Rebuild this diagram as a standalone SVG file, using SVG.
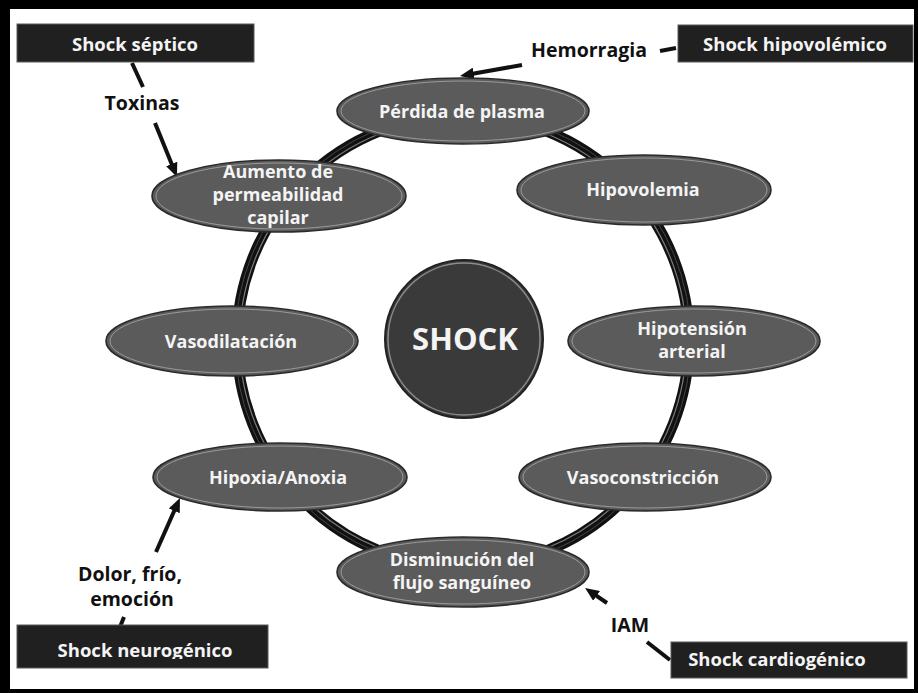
<svg xmlns="http://www.w3.org/2000/svg" width="918" height="693" viewBox="0 0 918 693">
<defs>
<style>
.node{fill:#5b5b5b;stroke:#2b2b2b;stroke-width:1.6}
.rim{fill:none;stroke:#9a9a9a;stroke-width:1}
.nt{font-family:"Open Sans","Liberation Sans",sans-serif;font-weight:bold;font-size:18px;fill:#f4f4f4;text-anchor:middle}
.lb{font-family:"Open Sans","Liberation Sans",sans-serif;font-weight:bold;font-size:19.5px;fill:#111;text-anchor:middle}
.bx{fill:#202020;stroke:#5a5a5a;stroke-width:1}
.bt{font-family:"Open Sans","Liberation Sans",sans-serif;font-weight:bold;font-size:18.5px;fill:#f4f4f4;text-anchor:middle}
.ln{stroke:#111;stroke-width:4;fill:none}
.ar{stroke:#111;stroke-width:4;fill:none;marker-end:url(#ah)}
</style>
<marker id="ah" markerUnits="userSpaceOnUse" markerWidth="14" markerHeight="12" viewBox="0 0 14 12" refX="4" refY="6" orient="auto">
<path d="M0,0 L14,6 L0,12 z" fill="#111"/>
</marker>
<clipPath id="cneuro"><rect x="17" y="625" width="251" height="34"/></clipPath>
</defs>

<rect x="0" y="0" width="918" height="693" fill="#000"/>
<rect x="10" y="9" width="904" height="680" fill="#fff"/>

<g id="ring">
<circle cx="463" cy="341" r="226" fill="none" stroke="#111" stroke-width="11"/>
<circle cx="463" cy="341" r="223.5" fill="none" stroke="#7a7a7a" stroke-width="1.2"/>
<circle cx="463" cy="341" r="228" fill="none" stroke="#444" stroke-width="1"/>
</g>

<g id="connectors">
<line class="ln" x1="132" y1="63" x2="143" y2="87"/>
<line class="ar" x1="155" y1="123" x2="173.2" y2="167.7"/>
<line class="ln" x1="660" y1="51" x2="676" y2="48"/>
<line class="ar" x1="522" y1="65" x2="469.8" y2="74.3"/>
<line class="ln" x1="120" y1="627" x2="124" y2="617"/>
<line class="ar" x1="156" y1="552" x2="175.9" y2="507.1"/>
<line class="ln" x1="647" y1="642" x2="670" y2="660"/>
<line class="ar" x1="607" y1="603" x2="593.3" y2="593.6"/>
</g>

<g id="shock">
<circle cx="464" cy="339" r="79" fill="#3a3a3a" stroke="#222" stroke-width="2"/>
<circle cx="464" cy="339" r="76" fill="none" stroke="#8c8c8c" stroke-width="1.5"/>
<text x="465" y="350" font-family="'Open Sans','Liberation Sans',sans-serif" font-weight="bold" font-size="31" fill="#f4f4f4" text-anchor="middle">SHOCK</text>
</g>

<g id="n-perdida">
<ellipse class="node" cx="463" cy="111" rx="126" ry="33"/>
<ellipse class="rim" cx="463" cy="111" rx="122" ry="30"/>
<text class="nt" x="462" y="118">Pérdida de plasma</text>
</g>
<g id="n-hipovolemia">
<ellipse class="node" cx="644" cy="190" rx="127" ry="35"/>
<ellipse class="rim" cx="644" cy="190" rx="123" ry="32"/>
<text class="nt" x="643" y="196">Hipovolemia</text>
</g>
<g id="n-hipotension">
<ellipse class="node" cx="694" cy="341" rx="126" ry="35"/>
<ellipse class="rim" cx="694" cy="341" rx="122" ry="32"/>
<text class="nt" x="692" y="335">Hipotensión</text>
<text class="nt" x="692" y="358">arterial</text>
</g>
<g id="n-vasoconstriccion">
<ellipse class="node" cx="645" cy="477" rx="126" ry="34"/>
<ellipse class="rim" cx="645" cy="477" rx="122" ry="31"/>
<text class="nt" x="643" y="484">Vasoconstricción</text>
</g>
<g id="n-disminucion">
<ellipse class="node" cx="463" cy="572" rx="126" ry="35"/>
<ellipse class="rim" cx="463" cy="572" rx="122" ry="32"/>
<text class="nt" x="462" y="566">Disminución del</text>
<text class="nt" x="462" y="589">flujo sanguíneo</text>
</g>
<g id="n-hipoxia">
<ellipse class="node" cx="280" cy="477" rx="127" ry="34"/>
<ellipse class="rim" cx="280" cy="477" rx="123" ry="31"/>
<text class="nt" x="278" y="484">Hipoxia/Anoxia</text>
</g>
<g id="n-vasodilatacion">
<ellipse class="node" cx="232" cy="341" rx="126" ry="35"/>
<ellipse class="rim" cx="232" cy="341" rx="122" ry="32"/>
<text class="nt" x="231" y="348">Vasodilatación</text>
</g>
<g id="n-aumento">
<ellipse class="node" cx="279" cy="196" rx="127" ry="36"/>
<ellipse class="rim" cx="279" cy="196" rx="123" ry="33"/>
<text class="nt" x="278" y="178">Aumento de</text>
<text class="nt" x="278" y="201">permeabilidad</text>
<text class="nt" x="278" y="224">capilar</text>
</g>

<g id="b-septico">
<rect class="bx" x="17" y="24" width="237" height="38"/>
<text class="bt" x="135" y="51">Shock séptico</text>
</g>
<g id="b-hipovolemico">
<rect class="bx" x="678" y="25" width="235" height="37"/>
<text class="bt" x="795" y="51">Shock hipovolémico</text>
</g>
<g id="b-neurogenico">
<rect class="bx" x="17" y="625" width="251" height="43"/>
<text class="bt" x="145" y="657" clip-path="url(#cneuro)">Shock neurogénico</text>
</g>
<g id="b-cardiogenico">
<rect class="bx" x="671" y="642" width="236" height="36"/>
<text class="bt" x="777" y="666">Shock cardiogénico</text>
</g>

<g id="labels">
<text class="lb" x="142" y="110" font-size="18.5">Toxinas</text>
<text class="lb" x="589" y="57">Hemorragia</text>
<text class="lb" x="130" y="581" font-size="20.5">Dolor, frío,</text>
<text class="lb" x="132" y="606" font-size="20.5">emoción</text>
<text class="lb" x="630" y="632" font-size="21">IAM</text>
</g>
</svg>
